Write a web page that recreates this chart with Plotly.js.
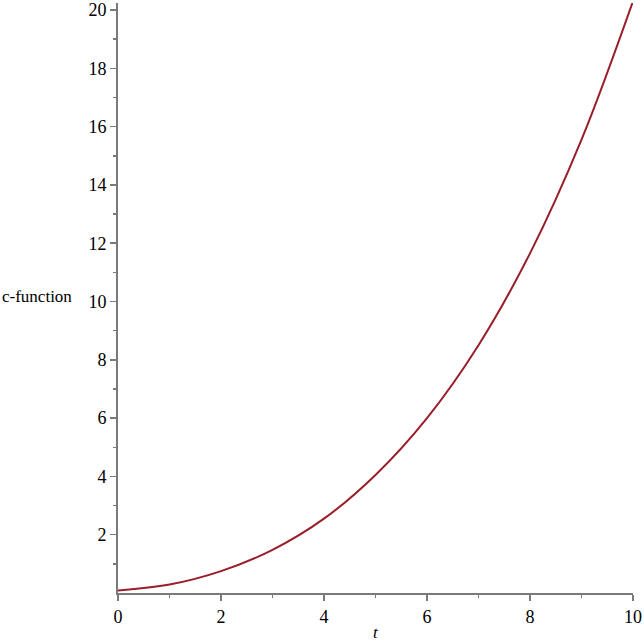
<!DOCTYPE html>
<html>
<head>
<meta charset="utf-8">
<script src="https://cdn.plot.ly/plotly-3.0.1.min.js"></script>
<style>html,body{margin:0;padding:0;background:#fff;}#chart{width:644px;height:644px;}</style>
</head>
<body>
<div id="chart"></div>
<script>
const tValues = [0, 1, 2, 3, 4, 5, 6, 7, 8, 9, 10];
const cValues = [0.09, 0.29, 0.75, 1.48, 2.55, 4.05, 6.0, 8.5, 11.65, 15.55, 20.3];
const xTickVals = [0, 2, 4, 6, 8, 10];
const xMinorVals = [1, 3, 5, 7, 9];
const yTickVals = [2, 4, 6, 8, 10, 12, 14, 16, 18, 20];
const yMinorVals = [1, 3, 5, 7, 9, 11, 13, 15, 17, 19];
const xLabel = 't';
const yLabel = 'c-function';

const axisColor = '#7a7a7a';
const serif = 'Times New Roman, Times, serif';
const tickFont = {family: serif, size: 18, color: '#000'};

Plotly.newPlot('chart', [{
  x: tValues, y: cValues, type: 'scatter', mode: 'lines',
  line: {color: '#981e2a', width: 2, shape: 'spline', smoothing: 1}
}], {
  width: 644, height: 644,
  margin: {l: 118, r: 11, t: 3, b: 51},
  paper_bgcolor: '#fff', plot_bgcolor: '#fff',
  showlegend: false,
  font: {family: serif},
  xaxis: {
    range: [0, 10], showgrid: false, zeroline: false,
    showline: true, linecolor: axisColor, linewidth: 2,
    tickmode: 'array', tickvals: xTickVals, ticks: 'outside', ticklen: 6, tickwidth: 1.5, tickcolor: axisColor,
    minor: {tickmode: 'array', tickvals: xMinorVals, ticks: 'outside', ticklen: 3, tickwidth: 1.5, tickcolor: axisColor},
    tickfont: tickFont
  },
  yaxis: {
    range: [0, 20.24], showgrid: false, zeroline: false,
    showline: true, linecolor: axisColor, linewidth: 2,
    tickmode: 'array', tickvals: yTickVals, ticks: 'outside', ticklen: 6, tickwidth: 1.5, tickcolor: axisColor,
    minor: {tickmode: 'array', tickvals: yMinorVals, ticks: 'outside', ticklen: 3, tickwidth: 1.5, tickcolor: axisColor},
    tickfont: tickFont
  },
  annotations: [
    {text: yLabel, xref: 'paper', yref: 'paper', x: (0 - 118) / 515, y: (593.3 - 297) / 590.3, xanchor: 'left', yanchor: 'middle', showarrow: false,
     font: {family: serif, size: 17, color: '#000'}},
    {text: '<i>' + xLabel + '</i>', xref: 'paper', yref: 'paper', x: 0.5, y: (593.3 - 633) / 590.3, xanchor: 'center', yanchor: 'middle', showarrow: false,
     font: {family: serif, size: 17, color: '#000'}}
  ]
}, {displayModeBar: false, staticPlot: true});
</script>
</body>
</html>
